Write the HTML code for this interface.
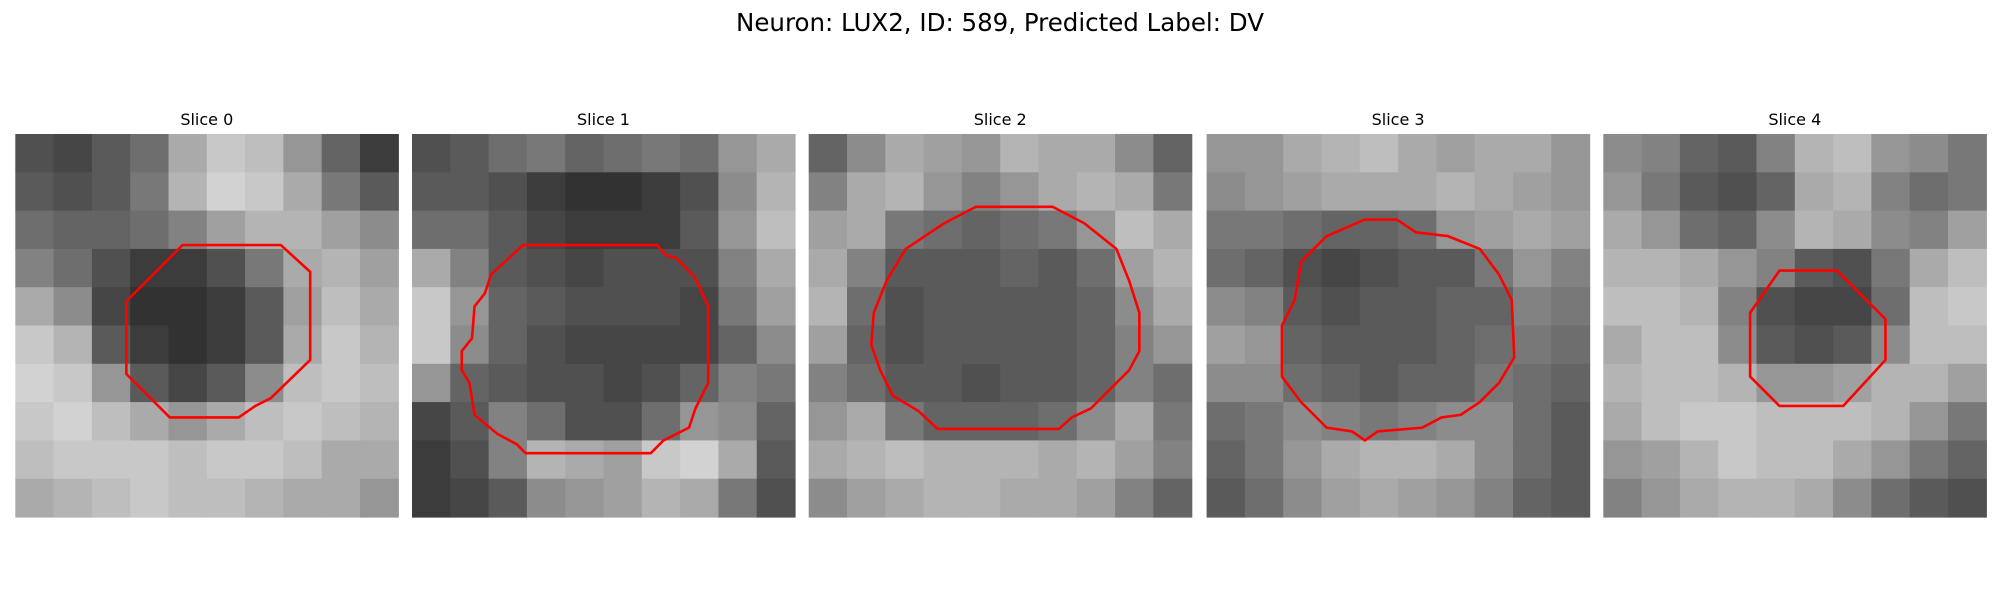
<!DOCTYPE html>
<html><head><meta charset="utf-8"><style>
html,body{margin:0;padding:0;background:#fff;}
svg{display:block;font-family:"DejaVu Sans","Liberation Sans",sans-serif;}
</style></head><body>
<svg id="fig" width="2000" height="600" viewBox="0 0 2000 600" xmlns="http://www.w3.org/2000/svg">
<text x="1000" y="31" text-anchor="middle" font-size="24.5" fill="#000">Neuron: LUX2, ID: 589, Predicted Label: DV</text>
</svg>
<script>
const titles = ["Slice 0","Slice 1","Slice 2","Slice 3","Slice 4"];
const panelX = [15.3, 412, 808.7, 1206.6, 1603.3];
const gray0 = [[80,70,90,110,170,200,190,150,100,60],[90,80,90,120,180,210,200,170,120,90],[110,100,100,110,130,160,180,180,160,140],[130,110,80,60,60,80,120,170,180,160],[170,140,70,50,50,60,90,160,190,170],[200,180,90,60,50,60,90,170,200,180],[210,200,150,90,70,90,140,190,200,190],[200,210,190,170,150,170,190,200,190,180],[190,200,200,200,190,200,200,190,170,170],[170,180,190,200,190,190,180,170,170,150]];
const gray1 = [[80,90,110,120,100,110,120,110,150,170],[90,90,80,60,50,50,60,80,140,180],[110,110,90,70,60,60,60,90,150,190],[170,130,90,80,70,80,80,80,130,170],[200,150,100,90,80,80,80,70,120,160],[200,140,100,80,70,70,70,70,100,140],[150,100,90,80,80,70,80,100,130,120],[70,90,130,110,80,80,110,150,140,100],[60,80,130,180,170,160,200,210,170,90],[60,70,90,140,150,160,180,170,120,80]];
const gray2 = [[100,140,170,160,150,180,170,170,140,100],[130,170,180,150,130,150,170,180,170,120],[160,170,120,110,100,110,120,150,190,170],[170,130,90,90,90,100,90,110,160,180],[180,110,80,90,90,90,90,100,140,170],[160,100,80,90,90,90,90,100,130,150],[130,110,90,90,80,90,90,100,130,110],[150,170,120,100,100,100,110,140,170,120],[170,180,190,180,180,180,170,180,160,130],[140,160,170,180,180,170,170,160,130,100]];
const gray3 = [[150,150,170,180,190,170,160,170,170,150],[140,150,160,170,170,170,180,170,160,150],[120,120,110,100,100,110,150,160,170,160],[110,100,80,70,80,90,90,120,150,130],[140,130,90,80,90,90,100,100,130,120],[160,150,100,90,90,90,100,110,120,110],[140,140,110,100,90,100,100,120,110,100],[110,120,140,130,120,130,140,140,110,90],[100,120,150,170,180,180,170,140,110,90],[90,110,140,160,170,160,150,130,100,90]];
const gray4 = [[140,130,100,90,130,180,190,150,140,120],[150,120,90,80,100,170,180,130,110,120],[170,150,110,100,140,180,170,140,130,160],[180,180,170,150,130,90,80,120,170,190],[190,190,180,130,80,70,70,110,190,200],[170,190,190,140,90,80,90,140,190,190],[180,190,190,180,150,150,160,180,180,160],[170,190,200,200,190,190,190,180,150,120],[150,160,180,200,190,190,170,150,120,100],[130,150,170,180,180,170,140,110,90,80]];
const grays = [gray0,gray1,gray2,gray3,gray4];
const contour0 = [[13.1,8.7],[20.8,8.7],[23.1,10.8],[23.1,17.7],[20,20.7],[18.8,21.3],[17.5,22.2],[12.1,22.2],[8.7,18.8],[8.7,13.1]];
const contour1 = [[8.7,8.7],[19.2,8.7],[19.9,9.5],[20.7,9.7],[22.2,11.3],[23.2,13.5],[23.2,19.5],[22.2,21.5],[21.7,23],[19.7,24],[18.7,25],[8.9,25],[8.2,24.3],[6.7,23.5],[4.9,22],[4.5,19.5],[3.9,18.5],[3.9,17],[4.7,16],[4.9,13.5],[5.7,12.5],[6.2,11]];
const contour2 = [[13.1,5.7],[19.1,5.7],[21.6,7],[24.1,9],[25.1,11.5],[25.9,14],[25.9,17],[25.1,18.5],[23.6,20],[22.1,21.5],[20.6,22.2],[19.6,23.1],[10.1,23.1],[8.6,21.7],[6.6,20.5],[5.6,18.5],[4.9,16.5],[5.1,14],[6.1,11.5],[7.6,9],[9.1,8],[10.6,7]];
const contour3 = [[12.4,6.7],[14.9,6.7],[16.4,7.7],[18.9,8],[21.4,9],[22.9,11],[23.9,13],[24.1,17.5],[22.9,19.5],[21.4,21],[19.9,22],[18.4,22.2],[16.9,23],[13.4,23.3],[12.4,24],[11.4,23.3],[9.4,23],[7.4,21],[5.9,19],[5.9,15],[6.9,13],[7.4,10],[9.4,8]];
const contour4 = [[13.8,10.7],[18.3,10.7],[22.1,14.5],[22.1,17.7],[18.8,21.3],[13.8,21.3],[11.5,19],[11.5,14]];
const contours = [contour0,contour1,contour2,contour3,contour4];

const svg = document.getElementById('fig');
const NS = 'http://www.w3.org/2000/svg';
const top0 = 134, size = 383, px = size/30;
function xS(p, v){ return panelX[p] + v*px; }
function yS(v){ return top0 + v*px; }
for (let p=0;p<5;p++){
  const g = document.createElementNS(NS,'g');
  
  
  svg.appendChild(g);
  const t = document.createElementNS(NS,'text');
  
  
  t.setAttribute('x', panelX[p]+size/2); t.setAttribute('y', 125);
  t.setAttribute('text-anchor','middle'); t.setAttribute('font-size','16');
  t.textContent = titles[p];
  g.appendChild(t);
  const data = grays[p], n = data.length, cw = 30/n;
  for (let r=0;r<n;r++) for (let c=0;c<n;c++){
    const rc = document.createElementNS(NS,'rect');
    
    
    rc.setAttribute('x', xS(p,c*cw)); rc.setAttribute('y', yS(r*cw));
    rc.setAttribute('width', cw*px+0.6); rc.setAttribute('height', cw*px+0.6);
    const v = data[r][c];
    rc.setAttribute('fill', `rgb(${v},${v},${v})`);
    g.appendChild(rc);
  }
  const poly = document.createElementNS(NS,'polygon');
  
  
  poly.setAttribute('points', contours[p].map(q=>xS(p,q[0])+','+yS(q[1])).join(' '));
  poly.setAttribute('fill','none'); poly.setAttribute('stroke','#ff0000');
  poly.setAttribute('stroke-width','2.6'); poly.setAttribute('stroke-linejoin','round');
  g.appendChild(poly);
}
</script>
</body></html>
